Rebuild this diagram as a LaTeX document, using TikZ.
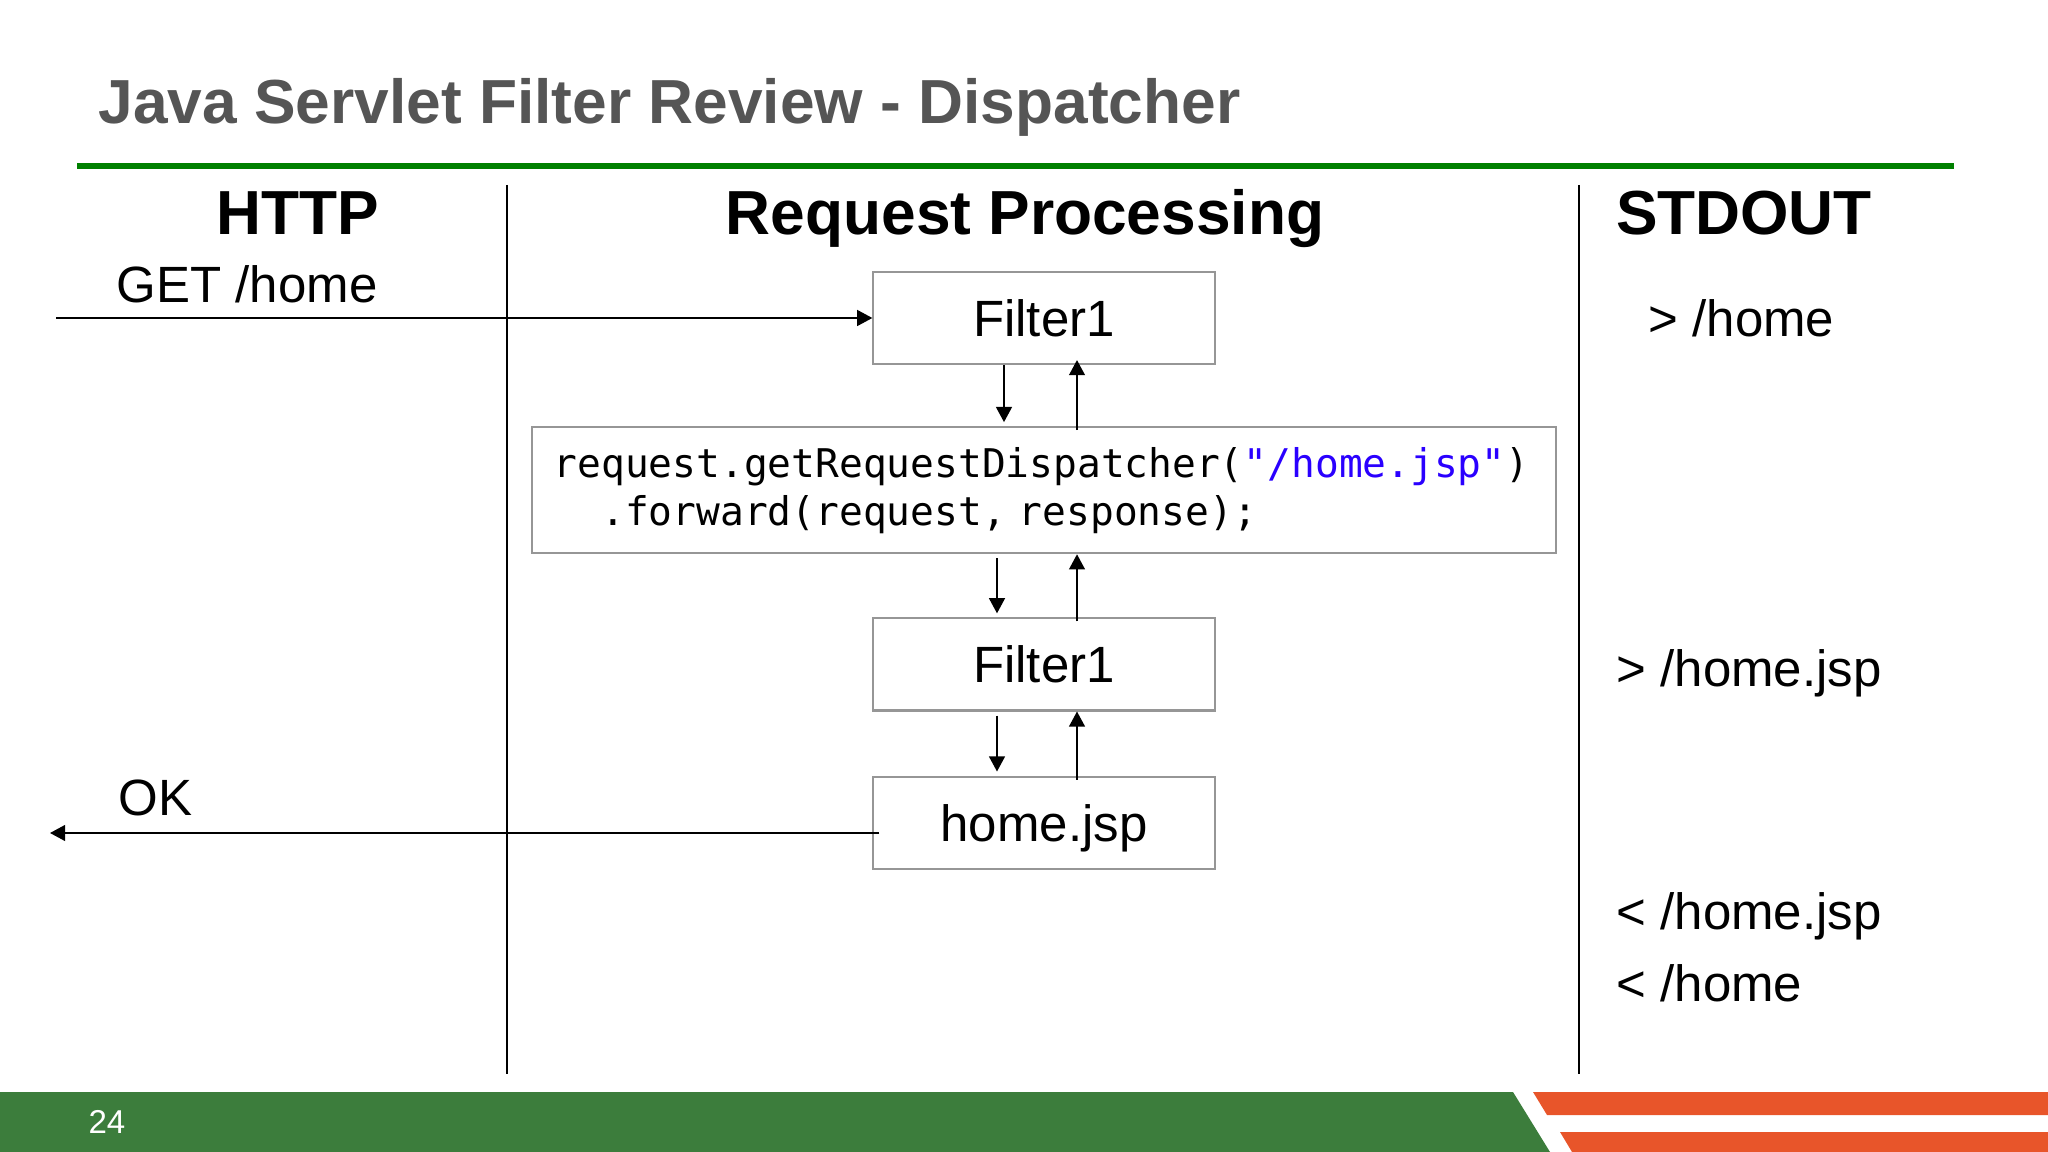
\documentclass[tikz,border=0pt]{standalone}
\usepackage{fontspec}
\setmainfont{Liberation Sans}
\setmonofont{DejaVu Sans Mono}
\usetikzlibrary{arrows.meta}
\usetikzlibrary{positioning}
\definecolor{titlegray}{RGB}{85,85,85}
\definecolor{rulegreen}{RGB}{0,128,0}
\definecolor{footgreen}{RGB}{60,125,60}
\definecolor{footorange}{RGB}{232,85,42}
\definecolor{strblue}{RGB}{42,0,255}
\definecolor{boxgray}{RGB}{150,150,150}

\begin{document}
\begin{tikzpicture}[x=0.01cm,y=-0.01cm]
\tikzset{stagebox/.style={rectangle,draw=boxgray,line width=0.6pt,minimum width=3.41cm,minimum height=0.92cm,text depth=0pt,font=\fontsize{14.5}{17}\selectfont},
codebox/.style={rectangle,draw=boxgray,line width=0.6pt,text width=9.8cm,inner xsep=0.22cm,minimum height=1.26cm,align=left,font=\fontsize{11.24}{13.66}\selectfont\ttfamily},
header/.style={anchor=base,font=\fontsize{17.7}{21}\selectfont\bfseries},
plain/.style={anchor=base west,inner sep=0pt,font=\fontsize{14.5}{17}\selectfont},
flow/.style={line width=0.5pt,-{Triangle[length=4.3pt,width=4.5pt]}}}
\useasboundingbox (0,0) rectangle (2048,1152);
\node[anchor=base west,inner sep=0pt,text=titlegray,font=\fontsize{17.7}{21}\selectfont\bfseries](title) at (98,124){Java Servlet Filter Review - Dispatcher};
\draw[rulegreen,line width=1.7pt] (77,166) -- (1954,166);
\draw[line width=0.6pt] (507,185) -- (507,1074);
\draw[line width=0.6pt] (1579,185) -- (1579,1074);
\node[header](http) at (298,235){HTTP};
\node[header](proc) at (1025,235){Request Processing};
\node[header](stdout) at (1744,235){STDOUT};
\node[stagebox](filterA) at (1044,318){Filter1};
\node[codebox,below=0.61cm of filterA](code){request.getRequestDispatcher({\color{strblue}"/home.jsp"})\\\phantom{xx}.forward(request, response);};
\node[stagebox,below=0.63cm of code](filterB){Filter1};
\node[stagebox,below=0.64cm of filterB](home){home.jsp};
\node[plain](get) at (116,303){GET /home};
\node[plain](ok) at (118,815){OK};
\coordinate (clientIn) at (56,318);
\coordinate (clientOut) at (50,833);
\draw[flow] (clientIn) -- (filterA.west);
\draw[flow,shorten <=-0.07cm] (home.west |- clientOut) -- (clientOut);
\coordinate (dnA) at (1004,0);
\coordinate (dnB) at (997,0);
\coordinate (upX) at (1077,0);
\draw[flow,shorten >=0.04cm] (filterA.south -| dnA) -- (code.north -| dnA);
\draw[flow,shorten <=-0.04cm,shorten >=-0.05cm] (code.north -| upX) -- (filterA.south -| upX);
\draw[flow,shorten <=0.04cm,shorten >=0.04cm] (code.south -| dnB) -- (filterB.north -| dnB);
\draw[flow,shorten <=-0.04cm] (filterB.north -| upX) -- (code.south -| upX);
\draw[flow,shorten <=0.04cm,shorten >=0.04cm] (filterB.south -| dnB) -- (home.north -| dnB);
\draw[flow,shorten <=-0.04cm] (home.north -| upX) -- (filterB.south -| upX);
\node[plain](outA) at (1648,337){> /home};
\node[plain](outB) at (1616,686){> /home.jsp};
\node[plain](outC) at (1616,929){< /home.jsp};
\node[plain](outD) at (1616,1001){< /home};
\fill[footgreen] (0,1092) -- (1513,1092) -- (1550,1152) -- (0,1152) -- cycle;
\fill[footorange] (1533,1092) -- (2048,1092) -- (2048,1115) -- (1547,1115) -- cycle;
\fill[footorange] (1560,1132) -- (2048,1132) -- (2048,1152) -- (1572,1152) -- cycle;
\node[text=white,font=\fontsize{9.4}{11}\selectfont](page) at (107,1122){24};
\end{tikzpicture}
\end{document}
